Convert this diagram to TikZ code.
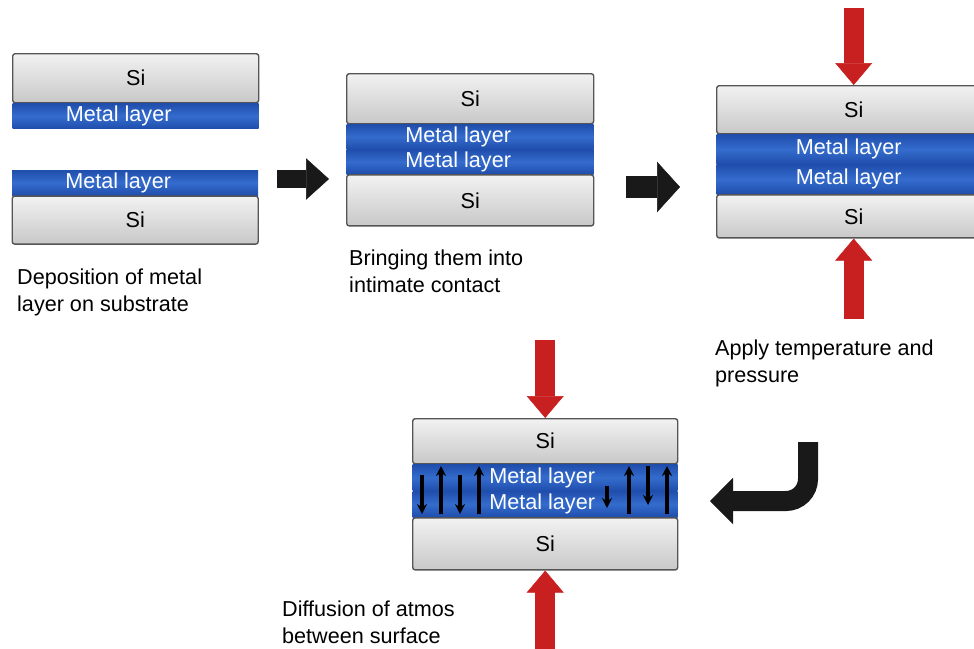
\documentclass[tikz,border=0pt]{standalone}
\usepackage{fontspec}
\setmainfont{Liberation Sans}
\usetikzlibrary{positioning,arrows.meta}
\definecolor{sitop}{RGB}{242,242,242}
\definecolor{sibot}{RGB}{200,200,200}
\definecolor{siedge}{RGB}{85,85,85}
\definecolor{metaldark}{RGB}{32,78,172}
\definecolor{metallight}{RGB}{52,108,205}
\definecolor{pressred}{RGB}{200,32,32}
\tikzset{
	si/.style={draw=siedge, line width=1.4pt, rounded corners=2.5pt, top color=sitop, bottom color=sibot, inner sep=0pt},
	metal/.style={top color=metaldark, bottom color=metaldark, middle color=metallight, text=white, inner sep=0pt},
	metaltext/.style={label={[text=white, xshift=#1]center:Metal layer}},
	press/.style={draw=pressred, line width=20pt, -{Triangle[width=37pt,length=22pt,line width=0.5pt]}},
	push/.style={draw=black!90, line width=#1, -{Triangle[width=2.3*#1,length=23pt,line width=0.5pt]}},
	hop/.style={draw=black, line width=3.4pt, -{Stealth[length=10pt,width=10pt]}},
	caption/.style={anchor=base west, align=left, inner sep=0pt}
}
\begin{document}
\begin{tikzpicture}[x=1pt,y=-1pt, font=\fontsize{21.6pt}{26.5pt}\selectfont, line cap=butt]
	\useasboundingbox (0,0) rectangle (974,648);
	\clip (0,0) rectangle (974,648);
	
	% step 1: two separate substrates
	\node[si, anchor=north west, minimum width=246pt, minimum height=49pt] (s1a) at (12,53) {Si};
	\node[metal, below=0pt of s1a, minimum width=246pt, minimum height=25pt, metaltext=-17pt] (m1a) {};
	\node[metal, anchor=north west, minimum width=246pt, minimum height=25pt, metaltext=-17pt] (m1b) at (12,170) {};
	\node[si, below=0pt of m1b, minimum width=246pt, minimum height=48pt] (s1b) {Si};
	\node[caption] (c1) at (17,311) {Deposition of metal\\layer on substrate};
	
	% step 2: contact
	\node[si, anchor=north west, minimum width=247pt, minimum height=50pt] (s2a) at (346,73) {Si};
	\node[metal, below=0pt of s2a, minimum width=247pt, minimum height=24.5pt, metaltext=-12pt] (m2a) {};
	\node[metal, below=0pt of m2a, minimum width=247pt, minimum height=24.5pt, metaltext=-12pt] (m2b) {};
	\node[si, below=0pt of m2b, minimum width=247pt, minimum height=51pt] (s2b) {Si};
	\node[caption] (c2) at (349,292) {Bringing them into\\intimate contact};
	
	% step 3: temperature and pressure
	\node[si, anchor=north west, minimum width=274pt, minimum height=48pt] (s3a) at (716,85) {Si};
	\node[metal, below=0pt of s3a, minimum width=274pt, minimum height=29.5pt, metaltext=-5pt] (m3a) {};
	\node[metal, below=0pt of m3a, minimum width=274pt, minimum height=29.5pt, metaltext=-5pt] (m3b) {};
	\node[si, below=0pt of m3b, minimum width=274pt, minimum height=43pt] (s3b) {Si};
	\node[caption] (c3) at (715,382) {Apply temperature and\\pressure};
	
	% step 4: diffusion
	\node[si, anchor=north west, minimum width=265pt, minimum height=45pt] (s4a) at (412,418) {Si};
	\node[metal, below=0pt of s4a, minimum width=265pt, minimum height=26pt, metaltext=-3pt] (m4a) {};
	\node[metal, below=0pt of m4a, minimum width=265pt, minimum height=26pt, metaltext=-3pt] (m4b) {};
	\node[si, below=0pt of m4b, minimum width=265pt, minimum height=52pt] (s4b) {Si};
	\node[caption] (c4) at (282,643) {Diffusion of atmos\\between surface};
	\foreach \x/\a/\b in {422/475/514, 441/514/466, 460/475/514, 479/514/466,
		607/486/508, 629/514/466, 648/466/505, 667/514/466}
		\draw[hop] (\x,\a) -- (\x,\b);
	
	% block arrows
	\coordinate (p1s) at (277,179); \coordinate (p1e) at (329,179);
	\coordinate (p2s) at (626,187); \coordinate (p2e) at (680,187);
	\draw[push=18pt] (p1s) -- (p1e);
	\draw[push=22pt] (p2s) -- (p2e);
	\coordinate (bendtop) at (808,442); \coordinate (bendend) at (710,501);
	\draw[push=20pt, rounded corners=22pt] (bendtop) |- (bendend);
	
	% pressure
	\coordinate (p3top) at ([yshift=77pt]s3a.north);
	\coordinate (p3bot) at ([yshift=-80pt]s3b.south);
	\coordinate (p4top) at ([yshift=78pt]s4a.north);
	\coordinate (p4bot) at ([yshift=-90pt]s4b.south);
	\draw[press] (p3top) -- (s3a.north);
	\draw[press] (p3bot) -- (s3b.south);
	\draw[press] (p4top) -- (s4a.north);
	\draw[press] (p4bot) -- (s4b.south);
\end{tikzpicture}
\end{document}
